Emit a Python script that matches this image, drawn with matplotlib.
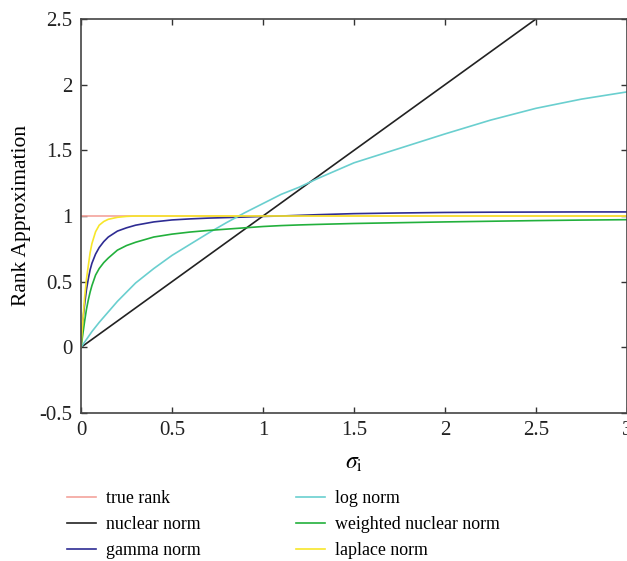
import matplotlib
matplotlib.use("Agg")
import matplotlib.pyplot as plt
import numpy as np

# values
sigma = [0, 0.01, 0.02, 0.03, 0.04, 0.05, 0.06, 0.08, 0.1, 0.125, 0.15, 0.2, 0.25, 0.3,
         0.4, 0.5, 0.6, 0.7, 0.8, 0.9, 1.0, 1.1, 1.2, 1.3, 1.5, 1.75, 2.0, 2.25, 2.5,
         2.75, 3.0]
true_rank = [1] * len(sigma)
nuclear_norm = sigma
gamma_norm = [0, 0.2, 0.33, 0.44, 0.52, 0.59, 0.64, 0.71, 0.76, 0.805, 0.84, 0.885, 0.91,
              0.93, 0.955, 0.97, 0.978, 0.984, 0.988, 0.992, 0.997, 1.0, 1.005, 1.01,
              1.018, 1.023, 1.027, 1.029, 1.03, 1.031, 1.031]
log_norm = [0, 0.02, 0.04, 0.06, 0.08, 0.1, 0.12, 0.155, 0.19, 0.23, 0.27, 0.35, 0.42, 0.49,
            0.60, 0.70, 0.785, 0.87, 0.95, 1.025, 1.095, 1.165, 1.22, 1.285, 1.405, 1.515,
            1.625, 1.73, 1.82, 1.89, 1.945]
weighted_nuclear = [0, 0.1, 0.2, 0.29, 0.36, 0.42, 0.47, 0.55, 0.6, 0.645, 0.68, 0.74,
                    0.775, 0.80, 0.84, 0.862, 0.878, 0.89, 0.90, 0.91, 0.92, 0.927, 0.932,
                    0.936, 0.943, 0.949, 0.955, 0.96, 0.965, 0.969, 0.972]
laplace_norm = [0, 0.2, 0.38, 0.52, 0.62, 0.72, 0.79, 0.88, 0.93, 0.958, 0.975, 0.99, 0.997,
                1.0, 1.0, 1.0, 1.0, 1.0, 1.0, 1.0, 1.0, 1.0, 1.0, 1.0, 1.0, 1.0, 1.0, 1.0,
                1.0, 1.0, 1.0]

names = ["true rank", "nuclear norm", "gamma norm", "log norm",
         "weighted nuclear norm", "laplace norm"]
colors = ["#F4A39C", "#222222", "#2E2C93", "#6ACFCF", "#22B03C", "#F7E62A"]

xticks = [0, 0.5, 1, 1.5, 2, 2.5, 3]
xticklabels = ["0", "0.5", "1", "1.5", "2", "2.5", "3"]
yticks = [-0.5, 0, 0.5, 1, 1.5, 2, 2.5]
yticklabels = ["-0.5", "0", "0.5", "1", "1.5", "2", "2.5"]

plt.rcParams["font.family"] = ["Liberation Serif", "DejaVu Serif"]
plt.rcParams["mathtext.fontset"] = "stix"

fig = plt.figure(figsize=(6.27, 5.61), dpi=100)
ax = fig.add_axes([81 / 627, 1 - 413 / 561, 546 / 627, 394 / 561])

series = [true_rank, nuclear_norm, gamma_norm, log_norm, weighted_nuclear, laplace_norm]
for ys, name, c in zip(series, names, colors):
    ax.plot(sigma, ys, color=c, lw=1.2, label=name)

ax.set_xlim(0, 3)
ax.set_ylim(-0.5, 2.5)
ax.set_xticks(xticks)
ax.set_xticklabels(xticklabels)
ax.set_yticks(yticks)
ax.set_yticklabels(yticklabels)
ax.tick_params(direction="in", length=4, width=1, top=True, right=True,
               colors="#333333", labelcolor="#222222", labelsize=15)
ax.tick_params(axis="y", pad=6)
ax.tick_params(axis="x", pad=6)
for s in ax.spines.values():
    s.set_color("#444444")
    s.set_linewidth(1.2)

ax.set_xlabel(r"$\sigma_{\mathrm{i}}$", fontsize=17, labelpad=9)
ax.set_ylabel("Rank Approximation", fontsize=15.5, labelpad=6)

fig.legend(loc="upper left", bbox_to_anchor=(0.107, 0.126), ncol=2, frameon=False,
           fontsize=12.9, handlelength=1.62, handletextpad=0.56, columnspacing=5.3,
           labelspacing=0.5, borderpad=0, borderaxespad=0)

fig.savefig("out.png", dpi=100)
